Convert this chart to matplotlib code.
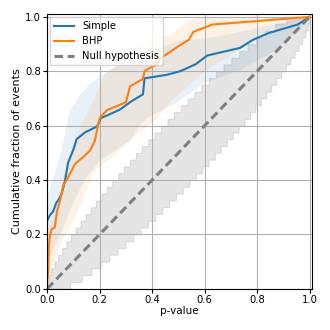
import math
import numpy as np
import matplotlib
matplotlib.use("Agg")
import matplotlib.pyplot as plt

# ---Data---

simple_p = [0.0, 0.01, 0.023, 0.034, 0.045, 0.055, 0.062, 0.068, 0.08, 0.1, 0.112, 0.144,
            0.19, 0.205, 0.227, 0.277, 0.32, 0.365, 0.371, 0.456, 0.506, 0.566, 0.61,
            0.735, 0.783, 0.845, 0.955, 1.0]
simple_frac = [0.25, 0.27, 0.285, 0.315, 0.33, 0.349, 0.374, 0.398, 0.465, 0.512, 0.55, 0.575,
               0.597, 0.628, 0.637, 0.659, 0.689, 0.715, 0.774, 0.787, 0.8, 0.826, 0.858,
               0.886, 0.915, 0.941, 0.972, 1.0]

bhp_p = [0.0, 0.004, 0.006, 0.01, 0.017, 0.029, 0.038, 0.046, 0.055, 0.061, 0.08, 0.106,
         0.14, 0.163, 0.182, 0.192, 0.201, 0.228, 0.3, 0.316, 0.364, 0.372, 0.418, 0.432,
         0.494, 0.54, 0.557, 0.63, 1.0]
bhp_frac = [0.025, 0.06, 0.15, 0.19, 0.22, 0.225, 0.288, 0.313, 0.349, 0.38, 0.41, 0.459,
            0.487, 0.508, 0.545, 0.594, 0.629, 0.657, 0.686, 0.745, 0.771, 0.802, 0.826, 0.848,
            0.888, 0.916, 0.945, 0.972, 1.0]

# confidence bands of the two curves (edges)
simple_hi_p = [0.0, 0.004, 0.048, 0.087, 0.118, 0.157, 0.2, 0.3, 0.4, 0.5, 0.63, 0.86, 1.0]
simple_hi = [0.3, 0.35, 0.484, 0.655, 0.704, 0.747, 0.78, 0.84, 0.88, 0.91, 0.925, 0.97, 1.0]
simple_lo_p = [0.0, 0.05, 0.1, 0.15, 0.2, 0.258, 0.316, 0.35, 0.392, 0.48, 0.608, 0.735,
               0.863, 0.977, 1.0]
simple_lo = [0.1, 0.2, 0.32, 0.41, 0.47, 0.508, 0.545, 0.6, 0.635, 0.677, 0.76, 0.805,
             0.873, 0.97, 1.0]

bhp_hi_p = [0.0, 0.048, 0.093, 0.131, 0.182, 0.22, 0.246, 0.297, 0.354, 0.48, 0.545, 0.6, 1.0]
bhp_hi = [0.2, 0.36, 0.52, 0.606, 0.704, 0.79, 0.81, 0.835, 0.895, 0.94, 0.99, 1.0, 1.0]
bhp_lo_p = [0.0, 0.055, 0.087, 0.106, 0.131, 0.144, 0.182, 0.246, 0.36, 0.411, 0.47, 0.6,
            0.75, 0.85, 1.0]
bhp_lo = [0.0, 0.178, 0.227, 0.263, 0.313, 0.349, 0.435, 0.484, 0.582, 0.618, 0.69, 0.8,
          0.89, 0.955, 1.0]

null_line = [0.0, 1.0]
n_events = 40


def binom_interval(n, p, q_lo=0.025, q_hi=0.975):
    k = np.arange(n + 1)
    lo = []
    hi = []
    for pp in p:
        pmf = np.array([math.comb(n, int(kk)) * pp**kk * (1 - pp)**(n - kk) for kk in k])
        cdf = np.cumsum(pmf)
        lo.append(np.argmax(cdf >= q_lo - 1e-12) / n)
        hi.append(np.argmax(cdf >= q_hi - 1e-12) / n)
    return np.array(lo), np.array(hi)


p_grid = np.linspace(0, 1, 1501)
null_lo, null_hi = binom_interval(n_events, p_grid)

# ---Figure---

fig = plt.figure(figsize=(3.3, 3.3), dpi=100)
ax = fig.add_axes([0.143, 0.125, 0.803, 0.832])

ax.fill(np.concatenate([simple_hi_p, simple_lo_p[::-1]]),
        np.concatenate([simple_hi, simple_lo[::-1]]), color="C0", alpha=0.1, lw=0)
ax.fill(np.concatenate([bhp_hi_p, bhp_lo_p[::-1]]),
        np.concatenate([bhp_hi, bhp_lo[::-1]]), color="C1", alpha=0.1, lw=0)
ax.fill_between(p_grid, null_lo, null_hi, color="gray", alpha=0.2, lw=0.8)

ax.plot(simple_p, simple_frac, color="C0", lw=1.5, label="Simple")
ax.plot(bhp_p, bhp_frac, color="C1", lw=1.5, label="BHP")
ax.plot(null_line, null_line, color="gray", lw=2.2, linestyle=(0, (2.8, 1.5)),
        label="Null hypothesis")

ax.set_xlim(0, 1.01)
ax.set_ylim(0, 1.01)
ax.set_xticks(np.arange(0, 1.01, 0.2))
ax.set_yticks(np.arange(0, 1.01, 0.2))
ax.tick_params(labelsize=7.2, length=3, pad=1.5)
ax.grid(True, color="#b0b0b0", lw=0.8)
ax.set_xlabel("p-value", fontsize=7.5, labelpad=1)
ax.set_ylabel("Cumulative fraction of events", fontsize=8, labelpad=2)
ax.legend(loc="upper left", fontsize=7.2, handlelength=2.0, borderaxespad=0.3)

fig.savefig("out.png", dpi=100)
